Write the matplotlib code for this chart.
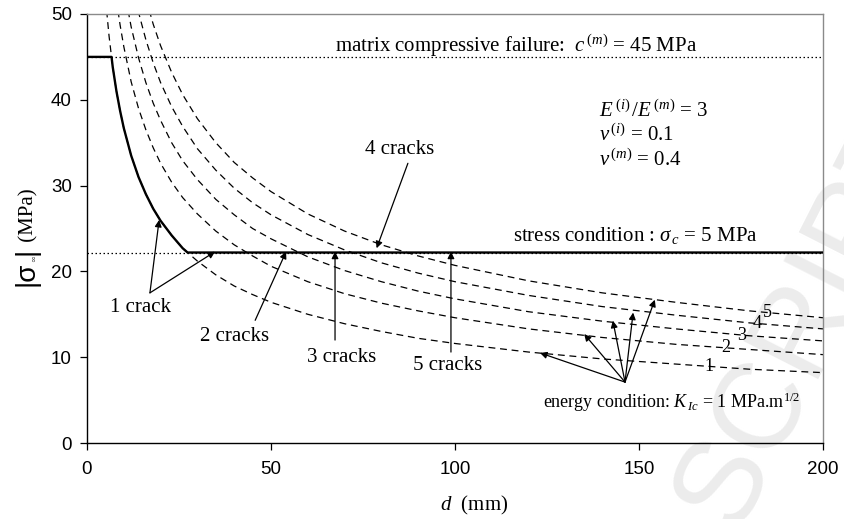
import numpy as np
import matplotlib
matplotlib.use("Agg")
import matplotlib.pyplot as plt

plt.rcParams["mathtext.fontset"] = "custom"
plt.rcParams["mathtext.rm"] = "Liberation Serif"
plt.rcParams["mathtext.it"] = "Liberation Serif:italic"
plt.rcParams["mathtext.bf"] = "Liberation Serif:bold"
plt.rcParams["mathtext.sf"] = "Liberation Sans"

# crack spacing d (mm)
d_mm = [5, 6, 7, 8, 9, 10, 12, 14, 16, 18, 20, 23, 26, 30, 35, 40, 45, 50,
        60, 70, 80, 90, 100, 120, 140, 160, 180, 200]

# energy condition, remote stress |sigma_inf| (MPa) for 1..5 cracks
energy_1 = [51.9, 47.4, 43.8, 41.0, 38.7, 36.7, 33.5, 31.0, 29.0, 27.3, 25.9, 24.2,
            22.7, 21.2, 19.6, 18.3, 17.3, 16.4, 15.0, 13.9, 13.0, 12.2, 11.6, 10.6,
            9.8, 9.2, 8.6, 8.2]
energy_2 = [65.3, 59.6, 55.2, 51.6, 48.7, 46.2, 42.1, 39.0, 36.5, 34.4, 32.6, 30.4,
            28.6, 26.7, 24.7, 23.1, 21.8, 20.6, 18.8, 17.4, 16.3, 15.4, 14.6, 13.3,
            12.3, 11.5, 10.9, 10.3]
energy_3 = [75.1, 68.6, 63.5, 59.4, 56.0, 53.1, 48.5, 44.9, 42.0, 39.6, 37.6, 35.0,
            32.9, 30.7, 28.4, 26.6, 25.0, 23.8, 21.7, 20.1, 18.8, 17.7, 16.8, 15.3,
            14.2, 13.3, 12.5, 11.9]
energy_4 = [84.1, 76.8, 71.1, 66.5, 62.7, 59.5, 54.3, 50.2, 47.0, 44.3, 42.0, 39.2,
            36.9, 34.3, 31.8, 29.7, 28.0, 26.6, 24.3, 22.5, 21.0, 19.8, 18.8, 17.2,
            15.9, 14.9, 14.0, 13.3]
energy_5 = [92.6, 84.5, 78.2, 73.2, 69.0, 65.5, 59.8, 55.3, 51.8, 48.8, 46.3, 43.2,
            40.6, 37.8, 35.0, 32.7, 30.9, 29.3, 26.7, 24.7, 23.1, 21.8, 20.7, 18.9,
            17.5, 16.4, 15.4, 14.6]
energy_curves = [energy_1, energy_2, energy_3, energy_4, energy_5]
curve_labels = ["1", "2", "3", "4", "5"]
curve_label_d = [169.0, 173.5, 178.0, 182.0, 185.0]

compressive_limit = 45.0   # matrix compressive failure (MPa)
stress_limit = 22.2        # stress condition level (MPa)

fig = plt.figure(figsize=(8.44, 5.19), dpi=100)
ax = fig.add_axes([87 / 844, 1 - 443 / 519, 736 / 844, 429 / 519])
ax.patch.set_alpha(0)

d = np.array(d_mm, dtype=float)

# energy curves
for vals in energy_curves:
    ax.plot(d, vals, color="black", lw=0.9, dashes=(5.5, 3.8), zorder=2)

# limit lines
ax.axhline(compressive_limit, color="black", lw=0.9, dashes=(1.2, 2.0), zorder=1)
ax.axhline(stress_limit, color="black", lw=0.9, dashes=(1.2, 2.0), zorder=1)

# admissible envelope: min of compressive limit, first-crack curve, stress limit
c1 = np.array(energy_1)
d_top = np.interp(compressive_limit, c1[::-1], d[::-1])
d_bot = np.interp(stress_limit, c1[::-1], d[::-1])
mask = (d > d_top) & (d < d_bot)
env_d = np.concatenate([[0.0, d_top], d[mask], [d_bot, 200.0]])
env_s = np.concatenate([[compressive_limit, compressive_limit], c1[mask],
                        [stress_limit, stress_limit]])
ax.plot(env_d, env_s, color="black", lw=1.7, solid_joinstyle="round", zorder=3)

ax.set_xlim(0, 200)
ax.set_ylim(0, 50)
ax.set_xticks([0, 50, 100, 150, 200])
ax.set_yticks([0, 10, 20, 30, 40, 50])
ax.tick_params(axis="both", direction="out", length=5, width=0.9, labelsize=13.5,
               labelfontfamily="Liberation Sans")
ax.tick_params(axis="x", pad=8)
ax.tick_params(axis="y", pad=6)
for s in ("left", "bottom"):
    ax.spines[s].set_linewidth(1.0)
    ax.spines[s].set_color("black")
for s in ("top", "right"):
    ax.spines[s].set_linewidth(1.0)
    ax.spines[s].set_color("#8a8a8a")

serif = dict(family="Liberation Serif", fontsize=15, color="black")
arrow = dict(arrowstyle="-|>", color="black", lw=0.9, mutation_scale=10,
             shrinkA=0, shrinkB=0)

ax.text(67.4, 45.6, r"matrix compressive failure:  $c^{\,(m)}$ = 45 MPa",
        ha="left", va="baseline", **serif)
ax.text(139.0, 38.0, r"$E^{\,(i)}\,/E^{\,(m)}$ = 3", ha="left", va="baseline", **serif)
ax.text(139.0, 35.2, r"$\nu^{\,(i)}$ = 0.1", ha="left", va="baseline", **serif)
ax.text(139.0, 32.3, r"$\nu^{\,(m)}$ = 0.4", ha="left", va="baseline", **serif)
ax.text(115.8, 23.5, r"stress condition : $\sigma_{\,c}$ = 5 MPa",
        ha="left", va="baseline", **serif)
ax.text(124.0, 4.1, r"energy condition: $K_{\,Ic}$ = 1 MPa.m$^{1/2}$",
        ha="left", va="baseline", family="Liberation Serif", fontsize=13)

# crack-count annotations
ax.text(6.2, 15.3, "1 crack", ha="left", va="baseline", **serif)
ax.annotate("", xy=(19.6, 26.0), xytext=(17.1, 17.5), arrowprops=arrow)
ax.annotate("", xy=(34.8, 22.3), xytext=(17.1, 17.5), arrowprops=arrow)
ax.text(30.7, 11.9, "2 cracks", ha="left", va="baseline", **serif)
ax.annotate("", xy=(54.1, 22.3), xytext=(45.7, 14.3), arrowprops=arrow)
ax.text(59.8, 9.4, "3 cracks", ha="left", va="baseline", **serif)
ax.annotate("", xy=(67.4, 22.3), xytext=(67.4, 12.0), arrowprops=arrow)
ax.text(75.5, 33.7, "4 cracks", ha="left", va="baseline", **serif)
ax.annotate("", xy=(78.7, 22.7), xytext=(87.2, 32.6), arrowprops=arrow)
ax.text(88.6, 8.5, "5 cracks", ha="left", va="baseline", **serif)
ax.annotate("", xy=(98.9, 22.3), xytext=(98.9, 10.6), arrowprops=arrow)

# arrows from the energy-condition note to each curve
origin = (146.2, 7.1)
for tx, ty in [(123.1, 10.5), (135.1, 12.7), (142.9, 14.25), (148.4, 15.2), (154.3, 16.7)]:
    ax.annotate("", xy=(tx, ty), xytext=origin, arrowprops=arrow)

# curve numbers placed on each curve
for lab, ld, vals in zip(curve_labels, curve_label_d, energy_curves):
    ax.text(ld, np.interp(ld, d, vals), lab, ha="center", va="center",
            family="Liberation Serif", fontsize=13)

# axis titles
fig.text(474 / 844, 1 - 510 / 519, r"$d$  (mm)", ha="center", va="baseline", **serif)

# y label assembled from pieces, baseline-aligned along a vertical line
fig.canvas.draw()
renderer = fig.canvas.get_renderer()
x0 = 33 / 844
y_px = 519 - 286
pieces = [("|σ", dict(family="Liberation Sans", fontsize=20), 0),
          ("∞", dict(family="DejaVu Sans", fontsize=6, color="#555555"), 3),
          ("|", dict(family="Liberation Sans", fontsize=20), 0),
          (" (MPa)", dict(family="Liberation Serif", fontsize=15), 0)]
for txt, kw, shift in pieces:
    t = fig.text(x0 + shift / 844, y_px / 519, txt, rotation=90, rotation_mode="anchor",
                 ha="left", va="baseline", **kw)
    bb = t.get_window_extent(renderer)
    y_px += bb.height

# faint diagonal watermark
fig.text(735 / 844, -15 / 519, "SCRIPT", rotation=63, rotation_mode="anchor",
         ha="left", va="baseline", fontsize=88, family="Liberation Sans",
         color="#ececec", zorder=-5)

fig.savefig("out.png", dpi=100)
